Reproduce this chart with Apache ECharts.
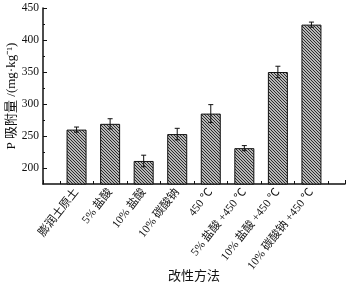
<!DOCTYPE html>
<html>
<head>
<meta charset="utf-8">
<script src="https://cdn.jsdelivr.net/npm/echarts@6/dist/echarts.min.js"></script>
<style>
  html, body { margin: 0; padding: 0; background: #fff; }
  #main { width: 349px; height: 285px; }
</style>
</head>
<body>
<div id="main"></div>
<script>
const categories = ['膨润土原土', '5% 盐酸', '10% 盐酸', '10% 碳酸钠', '450 ℃',
  '5% 盐酸 +450 ℃', '10% 盐酸 +450 ℃', '10% 碳酸钠 +450 ℃'];
const values = [260, 269, 211, 253, 285, 231, 350, 424];
const errors = [4, 8, 9, 9, 14, 4, 9, 4];
const yTicks = [200, 250, 300, 350, 400, 450];
const yMinorTicks = [225, 275, 325, 375, 425];

const FONT = "'Liberation Serif', 'Noto Sans CJK SC', serif";

// diagonal hatch fill
function hatch() {
  const c = document.createElement('canvas');
  c.width = 3; c.height = 3;
  const g = c.getContext('2d');
  g.fillStyle = '#f4f4f4';
  g.fillRect(0, 0, 3, 3);
  g.strokeStyle = '#222';
  g.lineWidth = 1.1;
  g.beginPath();
  g.moveTo(-1, -1); g.lineTo(4, 4);
  g.moveTo(-1, 2); g.lineTo(1, 4);
  g.moveTo(2, -1); g.lineTo(4, 1);
  g.stroke();
  return c;
}

const barData = values.map((v, i) => [i + 1, v]);
const errData = values.map((v, i) => [i + 1, v - errors[i], v + errors[i]]);

const chart = echarts.init(document.getElementById('main'));
chart.setOption({
  animation: false,
  grid: { left: 43, top: 8, right: 4, bottom: 101, outerBoundsMode: 'none', containLabel: false },
  xAxis: {
    type: 'value', min: 0, max: 9, interval: 1,
    name: '改性方法', nameLocation: 'middle', nameGap: 86, nameMoveOverlap: false,
    nameTextStyle: { fontFamily: FONT, fontSize: 13, color: '#111' },
    splitLine: { show: false },
    axisLine: { lineStyle: { color: '#111', width: 1.5 } },
    axisTick: { inside: true, length: 4, lineStyle: { color: '#111' } },
    minorTick: { show: true, splitNumber: 2, length: 3, lineStyle: { color: '#111' } },
    axisLabel: {
      rotate: 52, margin: 6, fontFamily: FONT, fontSize: 11.5, color: '#111',
      showMinLabel: false, showMaxLabel: false,
      formatter: v => categories[v - 1] || ''
    }
  },
  yAxis: [{
    type: 'value', min: 175, max: 450,
    name: 'P 吸附量 /(mg·kg⁻¹)', nameLocation: 'middle', nameGap: 25, nameMoveOverlap: false,
    nameTextStyle: { fontFamily: FONT, fontSize: 13, color: '#111' },
    splitLine: { show: false },
    axisLine: { show: true, lineStyle: { color: '#111', width: 1.5 } },
    axisTick: { inside: true, length: 4, customValues: yTicks, lineStyle: { color: '#111' } },
    axisLabel: { customValues: yTicks, fontFamily: FONT, fontSize: 11.5, color: '#111', margin: 4 }
  }, {
    type: 'value', min: 175, max: 450, position: 'left',
    splitLine: { show: false },
    axisLine: { show: false },
    axisTick: { inside: true, length: 2, customValues: yMinorTicks, lineStyle: { color: '#111' } },
    axisLabel: { show: false }
  }],
  series: [{
    type: 'bar',
    data: barData,
    barWidth: 20,
    itemStyle: {
      color: { image: hatch(), repeat: 'repeat' },
      borderColor: '#111', borderWidth: 1
    }
  }, {
    type: 'custom',
    data: errData,
    z: 5,
    renderItem: (params, api) => {
      const x = api.value(0);
      const lo = api.coord([x, api.value(1)]);
      const hi = api.coord([x, api.value(2)]);
      const w = 2.5;
      const style = { stroke: '#111', lineWidth: 1 };
      return {
        type: 'group',
        children: [
          { type: 'line', shape: { x1: lo[0], y1: lo[1], x2: hi[0], y2: hi[1] }, style },
          { type: 'line', shape: { x1: hi[0] - w, y1: hi[1], x2: hi[0] + w, y2: hi[1] }, style },
          { type: 'line', shape: { x1: lo[0] - w, y1: lo[1], x2: lo[0] + w, y2: lo[1] }, style }
        ]
      };
    }
  }]
});
</script>
</body>
</html>
